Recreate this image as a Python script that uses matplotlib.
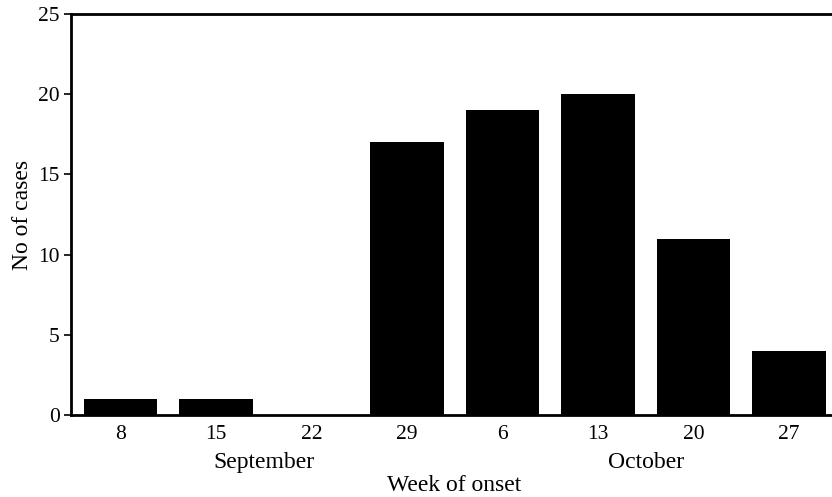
import matplotlib
matplotlib.use("Agg")
import matplotlib.pyplot as plt
import numpy as np

# data
weeks = ["8", "15", "22", "29", "6", "13", "20", "27"]
cases = [1, 1, 0, 17, 19, 20, 11, 4]
months = ["September", "October"]
month_pos = [1.5, 5.5]

FONT = "Liberation Serif"
TICK_SIZE = 15.5
LABEL_SIZE = 17

plt.rcParams["font.family"] = FONT

fig = plt.figure(figsize=(8.32, 4.97), dpi=100)
ax = fig.add_axes([0.0853, 0.165, 0.9147, 0.807])

x = np.arange(len(weeks))
ax.bar(x, cases, width=0.77, color="black")

ax.set_xlim(-0.52, 7.45)
ax.set_ylim(0, 25)
ax.set_yticks([0, 5, 10, 15, 20, 25])
ax.set_xticks(x)
ax.set_xticklabels(weeks, fontsize=TICK_SIZE)
ax.tick_params(axis="x", length=0, pad=7)
ax.tick_params(axis="y", length=5, width=1.2, labelsize=TICK_SIZE, pad=3)

for s in ["left", "bottom", "top"]:
    ax.spines[s].set_linewidth(2)
ax.spines["right"].set_visible(False)

for m, p in zip(months, month_pos):
    ax.text(p, -0.093, m, transform=ax.get_xaxis_transform(),
            ha="center", va="top", fontsize=LABEL_SIZE)

ax.set_xlabel("Week of onset", fontsize=LABEL_SIZE)
ax.xaxis.set_label_coords(0.503, -0.15)
ax.set_ylabel("No of cases", fontsize=LABEL_SIZE, labelpad=4)

fig.savefig("out.png", dpi=100)
